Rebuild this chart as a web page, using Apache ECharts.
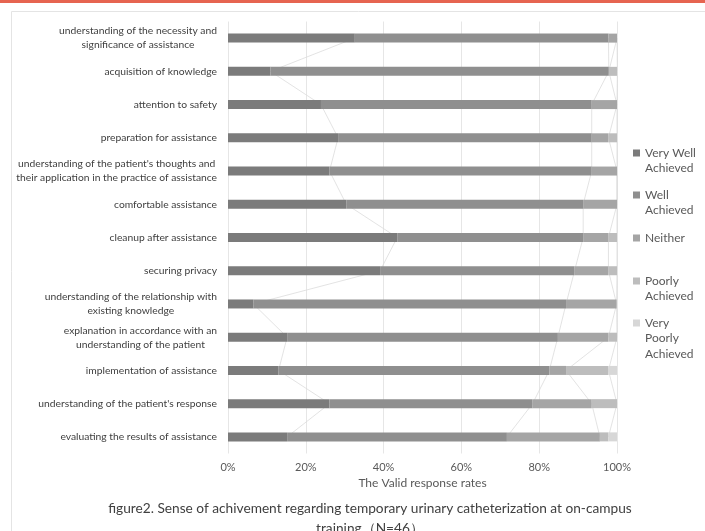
<!DOCTYPE html>
<html>
<head>
<meta charset="utf-8">
<script src="https://cdn.jsdelivr.net/npm/echarts@6/dist/echarts.min.js"></script>
<style>
html,body{margin:0;padding:0;background:#fff;}
#chart{width:705px;height:531px;}
</style>
</head>
<body>
<div id="chart"></div>
<script>
// Categories (top to bottom)
const categories = [
  "understanding of the necessity and\nsignificance of assistance",
  "acquisition of knowledge",
  "attention to safety",
  "preparation for assistance",
  "understanding of the patient's thoughts and\ntheir application in the practice of assistance",
  "comfortable assistance",
  "cleanup after assistance",
  "securing privacy",
  "understanding of the relationship with\nexisting knowledge",
  "explanation in accordance with an\nunderstanding of the patient",
  "implementation of assistance",
  "understanding of the patient's response",
  "evaluating the results of assistance"
];
// Valid response rates (%)
const veryWell   = [32.6, 10.9, 23.9, 28.3, 26.1, 30.4, 43.5, 39.1,  6.5, 15.2, 13.0, 26.1, 15.2];
const well       = [65.2, 87.0, 69.6, 65.2, 67.4, 60.9, 47.8, 50.0, 80.4, 69.6, 69.6, 52.2, 56.5];
const neither    = [ 2.2,  0.0,  6.5,  4.3,  6.5,  8.7,  6.5,  8.7, 13.0, 13.0,  4.3, 15.2, 23.9];
const poorly     = [ 0.0,  2.2,  0.0,  2.2,  0.0,  0.0,  2.2,  2.2,  0.0,  2.2, 10.9,  6.5,  2.2];
const veryPoorly = [ 0.0,  0.0,  0.0,  0.0,  0.0,  0.0,  0.0,  0.0,  0.0,  0.0,  2.2,  0.0,  2.2];
const seriesNames = ["Very Well Achieved", "Well Achieved", "Neither", "Poorly Achieved", "Very Poorly Achieved"];
const legendLines = [["Very Well", "Achieved"], ["Well", "Achieved"], ["Neither"], ["Poorly", "Achieved"], ["Very", "Poorly", "Achieved"]];
const xTicks = [0, 20, 40, 60, 80, 100];
const xAxisName = "The Valid response rates";
const caption = "figure2. Sense of achivement regarding temporary urinary catheterization at on-campus\ntraining\uFF08N=46\uFF09";

const colors = ['#7b7b7b', '#8f8f8f', '#a5a5a5', '#bdbdbd', '#d7d7d7'];
const values = [veryWell, well, neither, poorly, veryPoorly];
const FONT = 'Lato, "Noto Sans", sans-serif';

// cumulative boundaries for Excel-like series lines
const cum = [];
let run = categories.map(() => 0);
values.forEach((arr) => {
  run = run.map((v, i) => v + arr[i]);
  cum.push(run.slice());
});

const barSeries = values.map((arr, k) => ({
  name: seriesNames[k],
  type: 'bar',
  stack: 'total',
  barWidth: 9,
  z: 3,
  itemStyle: { color: colors[k] },
  emphasis: { disabled: true },
  data: arr
}));
const lineSeries = cum.slice(0, 4).map((arr) => ({
  type: 'line',
  symbol: 'none',
  silent: true,
  z: 1,
  lineStyle: { color: '#dcdcdc', width: 0.8 },
  data: arr.map((v, i) => [v, categories[i]])
}));

// legends: one per item, icon aligned with first text line
const lh = 15.5;
const iconCenters = [153, 195, 238, 281, 323];
const legends = seriesNames.map((name, k) => {
  const lines = legendLines[k];
  const padded = Array(lines.length - 1).fill('').concat(lines);
  const h = padded.length * lh;
  return {
    data: [name],
    left: 633,
    top: iconCenters[k] - h / 2,
    padding: 0,
    icon: 'rect',
    itemWidth: 7,
    itemHeight: 7,
    selectedMode: false,
    formatter: () => padded.join('\n'),
    textStyle: { color: '#595959', fontSize: 12, lineHeight: lh, fontFamily: FONT }
  };
});

const chart = echarts.init(document.getElementById('chart'), null, { renderer: 'canvas' });
chart.setOption({
  backgroundColor: '#ffffff',
  animation: false,
  color: colors,
  graphic: [
    { type: 'rect', shape: { x: 0, y: 0, width: 705, height: 3 }, style: { fill: '#e66450' }, silent: true },
    { type: 'rect', shape: { x: 11.5, y: 11.5, width: 720, height: 600 }, style: { fill: 'none', stroke: '#e4e4e4', lineWidth: 1 }, silent: true }
  ],
  title: {
    text: caption,
    left: 370,
    top: 499,
    padding: 0,
    textAlign: 'center',
    textStyle: { color: '#404040', fontSize: 13.7, fontWeight: 'normal', lineHeight: 19.5, fontFamily: FONT }
  },
  legend: legends,
  grid: { left: 228, right: 88, top: 21.5, bottom: 77.5, containLabel: false },
  xAxis: {
    type: 'value',
    min: xTicks[0],
    max: xTicks[xTicks.length - 1],
    interval: xTicks[1] - xTicks[0],
    name: xAxisName,
    nameLocation: 'middle',
    nameGap: 23,
    nameTextStyle: { color: '#595959', fontSize: 12, fontFamily: FONT },
    axisLine: { show: false },
    axisTick: { show: false },
    axisLabel: { formatter: '{value}%', color: '#595959', fontSize: 11, margin: 8, fontFamily: FONT },
    splitLine: { show: true, lineStyle: { color: '#e6e6e6', width: 1 } }
  },
  yAxis: {
    type: 'category',
    data: categories,
    inverse: true,
    axisLine: { show: false },
    axisTick: { show: false },
    splitLine: { show: false },
    axisLabel: {
      margin: 11,
      align: 'right',
      color: '#404040',
      fontSize: 10.3,
      lineHeight: 14,
      fontFamily: FONT,
      formatter: (v) => v.split('\n').map((l) => '{c|' + l + '}').join('\n'),
      rich: { c: { align: 'center', color: '#404040', fontSize: 10.3, lineHeight: 14, fontFamily: FONT } }
    }
  },
  series: lineSeries.concat(barSeries)
});
</script>
</body>
</html>
